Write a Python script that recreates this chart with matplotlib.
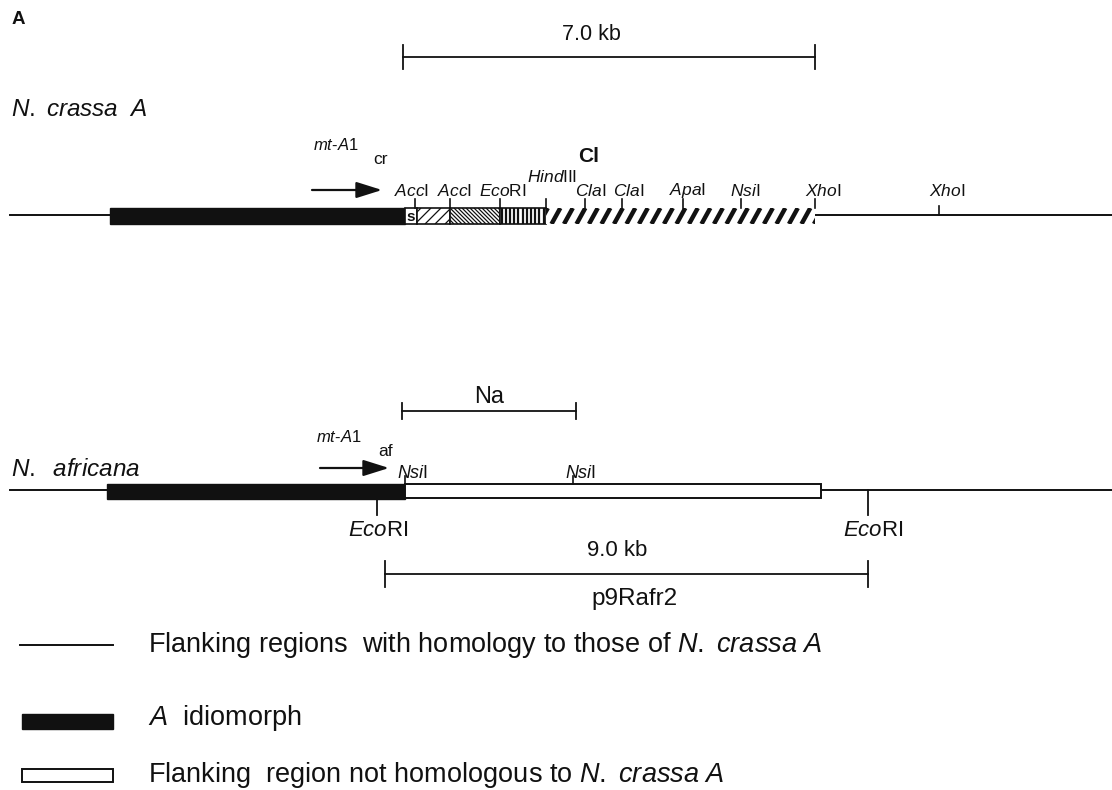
import matplotlib
matplotlib.use("Agg")
import matplotlib.pyplot as plt
from matplotlib.patches import Rectangle

plt.rcParams['font.family'] = ['Liberation Sans', 'DejaVu Sans']
plt.rcParams['mathtext.fontset'] = 'custom'
plt.rcParams['mathtext.rm'] = 'Liberation Sans'
plt.rcParams['mathtext.it'] = 'Liberation Sans:italic'
plt.rcParams['mathtext.bf'] = 'Liberation Sans:bold'

# ---------------- data (map coordinates) ----------------
# N. crassa A map
crassa_idiomorph = (110, 405)
crassa_segments = [  # (start, end, pattern)
    (405, 417, 's'),
    (417, 450, 'sparse'),
    (450, 500, 'dense'),
    (500, 546, 'vertical'),
    (546, 815, 'bold'),
]
crassa_sites = [415, 450, 500, 546, 585, 622, 683, 741, 815, 939]
crassa_labels = [("Acc", "I"), ("Acc", "I"), ("Eco", "RI"), ("Hind", "III"),
                 ("Cla", "I"), ("Cla", "I"), ("Apa", "I"), ("Nsi", "I"),
                 ("Xho", "I"), ("Xho", "I")]
crassa_scale = (403, 815, "7.0 kb")

# N. africana map
africana_idiomorph = (107, 405)
africana_nonhom = (405, 821)
africana_sites_top = [405, 573]
africana_labels_top = [("Nsi", "I"), ("Nsi", "I")]
africana_sites_bottom = [377, 868]
africana_labels_bottom = [("Eco", "RI"), ("Eco", "RI")]
na_probe = (402, 576, "Na")
clone_scale = (385, 868, "9.0 kb", "p9Rafr2")

legend_texts = [
    r"Flanking regions  with homology to those of $\mathit{N.\ crassa\ A}$",
    r"$\mathit{A}$  idiomorph",
    r"Flanking  region not homologous to $\mathit{N.\ crassa\ A}$",
]

# ---------------- drawing ----------------
W, H = 1112, 790
fig = plt.figure(figsize=(W / 100, H / 100), dpi=100)
ax = fig.add_axes([0, 0, 1, 1])
ax.set_xlim(0, W)
ax.set_ylim(H, 0)
ax.axis('off')

K = '#111111'


def site_label(x, y, parts, size=12.5, ha='left'):
    it, rm = parts
    ax.text(x, y, r"$\mathit{%s}\mathrm{%s}$" % (it, rm), fontsize=size,
            ha=ha, va='center', color=K)


def hatch_rect(x0, x1, y0, y1, kind):
    rect = Rectangle((x0, y0), x1 - x0, y1 - y0, facecolor='white',
                     edgecolor=K if kind != 'bold' else 'none', lw=1.2, zorder=2)
    ax.add_patch(rect)
    h = y1 - y0
    if kind == 'sparse':
        sp, slope, lw = 10, 1, 0.9
    elif kind == 'dense':
        sp, slope, lw = 4, -1, 0.9
    elif kind == 'vertical':
        sp, slope, lw = 4.2, 0, 1.6
    elif kind == 'bold':
        sp, slope, lw = 12.5, 0.55, 3.2
    else:
        return
    x = x0 - h * 2
    while x < x1 + h * 2:
        if slope == 0:
            xs = [x, x]
        elif slope > 0:
            xs = [x, x + h * slope]
        else:
            xs = [x + h, x]
        ln, = ax.plot(xs, [y1, y0], color=K, lw=lw, zorder=3,
                      solid_capstyle='butt')
        ln.set_clip_path(rect)
        x += sp


def scale_bar(x0, x1, y, tick=12, lw=1.3):
    ax.plot([x0, x1], [y, y], color=K, lw=lw)
    for xx in (x0, x1):
        ax.plot([xx, xx], [y - tick, y + tick], color=K, lw=lw)


def gene_arrow(x0, x1, y):
    ax.annotate('', xy=(x1, y), xytext=(x0, y),
                arrowprops=dict(arrowstyle='-|>,head_length=1.05,head_width=0.33',
                                lw=1.6, color=K, mutation_scale=15,
                                shrinkA=0, shrinkB=0))


# panel letter
ax.text(12, 20, "A", fontsize=13.5, fontweight='bold', ha='left', va='center', color=K)

# ---- N. crassa A ----
scale_bar(crassa_scale[0], crassa_scale[1], 57, tick=12)
ax.text(591, 34, crassa_scale[2], fontsize=15.5, ha='center', va='center', color=K)
ax.text(11, 110, r"$\mathit{N.\ crassa\ \ A}$", fontsize=17.5, ha='left', va='center', color=K)

yc = 215
ax.plot([10, W], [yc, yc], color=K, lw=1.4, zorder=1)
ax.add_patch(Rectangle((crassa_idiomorph[0], 208), crassa_idiomorph[1] - crassa_idiomorph[0],
                       16, facecolor=K, edgecolor=K, zorder=2))
for s0, s1, kind in crassa_segments:
    hatch_rect(s0, s1, 208, 224, kind)
    if kind == 's':
        ax.text((s0 + s1) / 2, 217, "s", fontsize=11, fontweight='bold',
                ha='center', va='center', zorder=4, color=K)

label_dx = [-21, -13, -21, -19, -10, -9, -14, -11, -10, -10]
for i, (xs, parts) in enumerate(zip(crassa_sites, crassa_labels)):
    top = 208 if xs <= 815 else yc
    ax.plot([xs, xs], [top - 9, top], color=K, lw=1.2, zorder=4)
    ly = 177 if parts[0] == "Hind" else 191
    site_label(xs + label_dx[i], ly, parts)

ax.text(589, 157, "Cl", fontsize=15, fontweight='bold', ha='center', va='center', color=K)
ax.text(313, 145, r"$\mathit{mt}$-$\mathit{A1}$", fontsize=12, ha='left', va='center', color=K)
ax.text(373, 159, "cr", fontsize=12.5, ha='left', va='center', color=K)
gene_arrow(312, 382, 190)

# ---- N. africana ----
scale_bar(na_probe[0], na_probe[1], 411, tick=8)
ax.text((na_probe[0] + na_probe[1]) / 2, 397, na_probe[2], fontsize=17,
        ha='center', va='center', color=K)
ax.text(11, 470, r"$\mathit{N.\ \ africana}$", fontsize=17.5, ha='left', va='center', color=K)
ax.text(316, 437, r"$\mathit{mt}$-$\mathit{A1}$", fontsize=12, ha='left', va='center', color=K)
ax.text(378, 452, "af", fontsize=12.5, ha='left', va='center', color=K)
gene_arrow(320, 389, 468)

ya = 490
ax.plot([10, W], [ya, ya], color=K, lw=1.4, zorder=1)
ax.add_patch(Rectangle((africana_idiomorph[0], 484), africana_idiomorph[1] - africana_idiomorph[0],
                       15, facecolor=K, edgecolor=K, zorder=2))
ax.add_patch(Rectangle((africana_nonhom[0], 484), africana_nonhom[1] - africana_nonhom[0],
                       14, facecolor='white', edgecolor=K, lw=1.4, zorder=2))
for xs, parts in zip(africana_sites_top, africana_labels_top):
    ax.plot([xs, xs], [476, 484], color=K, lw=1.2, zorder=3)
    site_label(xs - 8, 473, parts, size=13)
for xs, dx, parts in zip(africana_sites_bottom, [1, 5], africana_labels_bottom):
    y0 = 499 if xs < africana_nonhom[1] else ya
    ax.plot([xs, xs], [y0, 515], color=K, lw=1.3, zorder=3)
    site_label(xs + dx, 530, parts, size=16, ha='center')

scale_bar(clone_scale[0], clone_scale[1], 574, tick=13)
ax.text(617, 550, clone_scale[2], fontsize=16, ha='center', va='center', color=K)
ax.text(635, 599, clone_scale[3], fontsize=17.5, ha='center', va='center', color=K)

# ---- legend ----
ax.plot([20, 113], [645, 645], color=K, lw=1.4)
ax.add_patch(Rectangle((22, 714), 91, 15, facecolor=K, edgecolor=K))
ax.add_patch(Rectangle((22, 769), 91, 13, facecolor='white', edgecolor=K, lw=1.4))
for y, t in zip([645, 718, 775], legend_texts):
    ax.text(148, y, t, fontsize=19.5, ha='left', va='center', color=K)

fig.savefig("out.png", dpi=100)
